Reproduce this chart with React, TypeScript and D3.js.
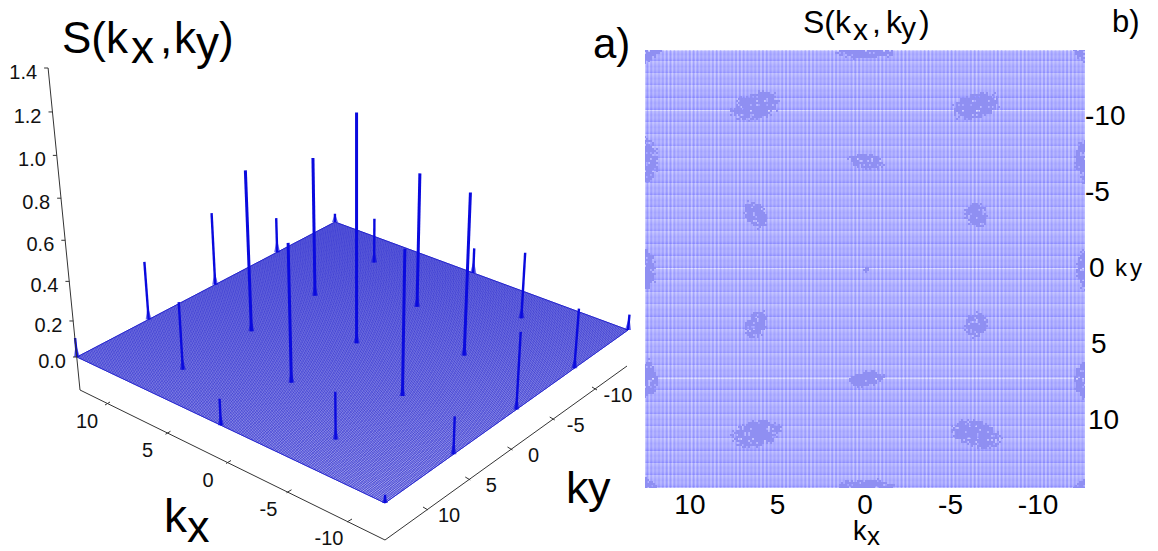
import * as d3 from "d3";
import { useEffect, useRef } from "react";

const width = 1158;
const height = 551;
const kMax = 4 * Math.PI;

// reciprocal lattice sites: kx = 2*pi*m, ky = pi*n
const peakM = [2, 2, 2, 2, 2, 1, 1, 1, 1, 0, 0, 0, 0, 0, -1, -1, -1, -1, -2, -2, -2, -2, -2];
const peakN = [4, 2, 0, -2, -4, 3, 1, -1, -3, 4, 2, 0, -2, -4, 3, 1, -1, -3, 4, 2, 0, -2, -4];
const peakValues = [0.11, 0.31, 0.38, 0.19, 0.05, 0.36, 0.81, 0.7, 0.24, 0.15, 0.71, 1.135, 0.68, 0.14, 0.26, 0.745, 0.82, 0.35, 0.05, 0.21, 0.41, 0.32, 0.09];

const zTicks = [0, 0.2, 0.4, 0.6, 0.8, 1.0, 1.2, 1.4];
const kxTicks = [10, 5, 0, -5, -10];
const kyTicks = [10, 5, 0, -5, -10];

// blobs of the flat map: kx, ky, radius along, radius across, tilt
const blobKx = [-6.28, 6.28, -6.28, 6.28, 6.28, -6.28, 6.28, -6.28, 0, 0, 0, 0, 12.6, -12.6, 12.6, -12.6, 12.6, -12.6, 12.6, -12.6, 12.6, -12.6, 0];
const blobKy = [-9.42, -9.42, 9.42, 9.42, -3.14, -3.14, 3.14, 3.14, -6.28, 6.28, -12.57, 12.57, -6.28, -6.28, 6.28, 6.28, 0, 0, -12.57, -12.57, 12.57, 12.57, 0];
const blobRx = [1.35, 1.35, 1.4, 1.35, 0.85, 0.7, 0.85, 0.7, 0.95, 1.0, 1.7, 1.7, 0.7, 0.7, 0.7, 0.7, 0.6, 0.6, 1.0, 0.8, 0.8, 0.8, 0.15];
const blobRy = [0.7, 0.75, 0.7, 0.7, 0.55, 0.6, 0.55, 0.6, 0.42, 0.42, 0.45, 0.55, 1.2, 1.2, 1.1, 1.1, 1.1, 1.1, 0.6, 0.6, 0.6, 0.6, 0.15];
const blobTilt = [-15, -15, 15, -12, 60, 60, -60, -60, 10, -8, 0, 0, 0, 0, 0, 0, 0, 0, -30, 30, 30, -30, 0];

type Pt = [number, number];

// perspective map of the unit square onto the floor quad
function floorMap(q: Pt[]) {
  const [[x0, y0], [x1, y1], [x2, y2], [x3, y3]] = q;
  const dx1 = x1 - x2, dx2 = x3 - x2, sx = x0 - x1 + x2 - x3;
  const dy1 = y1 - y2, dy2 = y3 - y2, sy = y0 - y1 + y2 - y3;
  const den = dx1 * dy2 - dx2 * dy1;
  const g = (sx * dy2 - dx2 * sy) / den;
  const h = (dx1 * sy - sx * dy1) / den;
  const a = x1 - x0 + g * x1, b = x3 - x0 + h * x3;
  const d = y1 - y0 + g * y1, e = y3 - y0 + h * y3;
  return (u: number, v: number): Pt => {
    const w = g * u + h * v + 1;
    return [(a * u + b * v + x0) / w, (d * u + e * v + y0) / w];
  };
}

export default function App() {
  const svgRef = useRef<SVGSVGElement | null>(null);

  useEffect(() => {
    const svg = d3.select(svgRef.current);
    svg.selectAll("*").remove();
    svg.style("font-family", "'Liberation Sans', Arial, sans-serif");

    // ---------- panel a
    const uScale = d3.scaleLinear().domain([kMax, -kMax]).range([0, 1]);
    const vScale = d3.scaleLinear().domain([kMax, -kMax]).range([0, 1]);
    const project = floorMap([[77, 357], [385, 503], [628, 330], [335, 222]]);
    const floor = (kx: number, ky: number) => project(uScale(kx), vScale(ky));

    const zLength = d3.scalePow().exponent(1.07).domain([0, 1.4]).range([0, 289]);
    // verticals converge on a far point below the picture
    const lift = (p: Pt, z: number): Pt => {
      const h = zLength(z);
      return [p[0] + ((p[0] - 357) / 2800) * h, p[1] - h];
    };

    const meshSteps = d3.range(0, 216).map((i) => -kMax + (i * 2 * kMax) / 215);
    const mesh = d3.path();
    meshSteps.forEach((k) => {
      const a = floor(k, -kMax), b = floor(k, kMax);
      mesh.moveTo(a[0], a[1]);
      mesh.lineTo(b[0], b[1]);
      const c = floor(-kMax, k), e = floor(kMax, k);
      mesh.moveTo(c[0], c[1]);
      mesh.lineTo(e[0], e[1]);
    });

    const outline = [floor(kMax, kMax), floor(-kMax, kMax), floor(-kMax, -kMax), floor(kMax, -kMax)];
    svg.append("polygon")
      .attr("points", outline.map((p) => p.join(",")).join(" "))
      .attr("fill", "#e4e4fa")
      .attr("stroke", "#2a2ad0")
      .attr("stroke-width", 1);
    svg.append("path")
      .attr("d", mesh.toString())
      .attr("fill", "none")
      .attr("stroke", "#2626cc")
      .attr("stroke-width", 0.62);

    const peaks = peakValues.map((value, i) => ({
      base: floor(2 * Math.PI * peakM[i], Math.PI * peakN[i]),
      value,
    }));
    const peakColor = "#0a0ade";
    peaks
      .slice()
      .sort((a, b) => a.base[1] - b.base[1])
      .forEach(({ base, value }) => {
        const tip = lift(base, value);
        const foot = lift(base, Math.min(value, 0.08));
        svg.append("polygon")
          .attr("points", `${base[0] - 3},${base[1]} ${foot[0]},${foot[1]} ${base[0] + 3},${base[1]}`)
          .attr("fill", peakColor)
          .attr("fill-opacity", 0.6);
        svg.append("line")
          .attr("x1", base[0]).attr("y1", base[1])
          .attr("x2", tip[0]).attr("y2", tip[1])
          .attr("stroke", peakColor)
          .attr("stroke-width", value > 0.5 ? 3 : 2.4);
      });

    // axes of panel a
    const axisColor = "#333";
    const corner = project(0, 0);
    const zAt = (z: number) => lift(corner, z);
    const zTop = zAt(1.4);
    svg.append("line")
      .attr("x1", 80).attr("y1", 390)
      .attr("x2", zTop[0]).attr("y2", zTop[1])
      .attr("stroke", axisColor);
    zTicks.forEach((z) => {
      const [x, y] = zAt(z);
      svg.append("line")
        .attr("x1", x).attr("y1", y)
        .attr("x2", x - 4).attr("y2", y)
        .attr("stroke", axisColor);
      svg.append("text")
        .attr("x", x - 11).attr("y", y + 11)
        .attr("text-anchor", "end")
        .attr("font-size", 20)
        .attr("fill", "#111")
        .text(z.toFixed(1));
    });

    const kxAxisX = d3.scaleLinear().domain([10, -10]).range([105, 347]);
    const kxAxisY = d3.scaleLinear().domain([10, -10]).range([405, 522]);
    const kyAxisX = d3.scaleLinear().domain([10, -10]).range([428, 597]);
    const kyAxisY = d3.scaleLinear().domain([10, -10]).range([510, 390]);

    svg.append("path")
      .attr("d", "M80,390L385,540L627,366")
      .attr("fill", "none")
      .attr("stroke", axisColor);

    kxTicks.forEach((t) => {
      svg.append("line")
        .attr("x1", kxAxisX(t)).attr("y1", kxAxisY(t))
        .attr("x2", kxAxisX(t) + 5).attr("y2", kxAxisY(t) - 3)
        .attr("stroke", axisColor);
      svg.append("text")
        .attr("x", kxAxisX(t) - 18).attr("y", kxAxisY(t) + 23)
        .attr("text-anchor", "middle")
        .attr("font-size", 20)
        .attr("fill", "#111")
        .text(t);
    });
    kyTicks.forEach((t) => {
      svg.append("line")
        .attr("x1", kyAxisX(t)).attr("y1", kyAxisY(t))
        .attr("x2", kyAxisX(t) - 5).attr("y2", kyAxisY(t) - 3)
        .attr("stroke", axisColor);
      svg.append("text")
        .attr("x", kyAxisX(t) + 21).attr("y", kyAxisY(t) + 12)
        .attr("text-anchor", "middle")
        .attr("font-size", 20)
        .attr("fill", "#111")
        .text(t);
    });

    const label = (x: number, y: number, size: number, s: string, anchor = "start") =>
      svg.append("text")
        .attr("x", x).attr("y", y)
        .attr("font-size", size)
        .attr("text-anchor", anchor)
        .attr("fill", "#000")
        .text(s);

    // S(kx,ky) of panel a
    label(62, 53, 44, "S(k");
    label(131, 63, 46, "x");
    label(160, 53, 44, ",");
    label(174, 53, 44, "k");
    label(196, 59, 46, "y");
    label(219, 53, 44, ")");
    label(593, 58, 42, "a)");
    label(164, 532, 46, "k");
    label(187, 542, 45, "x");
    label(566, 503, 45, "k");
    label(588, 503, 45, "y");

    // ---------- panel b
    const mapLeft = 645, mapTop = 50, mapW = 440, mapH = 438;
    const mapX = d3.scaleLinear().domain([kMax, -kMax]).range([mapLeft, mapLeft + mapW]);
    const mapY = d3.scaleLinear().domain([-kMax, kMax]).range([mapTop, mapTop + mapH]);

    const defs = svg.append("defs");
    defs.append("clipPath").attr("id", "map-clip")
      .append("rect")
      .attr("x", mapLeft).attr("y", mapTop).attr("width", mapW).attr("height", mapH);

    const map = svg.append("g").attr("clip-path", "url(#map-clip)");
    map.append("rect")
      .attr("x", mapLeft).attr("y", mapTop).attr("width", mapW).attr("height", mapH)
      .attr("fill", "#a6a6ff");

    // the mesh beating against the raster: saw bands across, fine stripes down
    const bandPeriod = 12.17;
    const bandShade = d3.scaleLinear<string>()
      .domain([0, 0.45, 1])
      .range(["rgba(255,255,255,0.3)", "rgba(255,255,255,0.03)", "rgba(125,125,255,0.5)"]);
    d3.range(mapTop, mapTop + mapH).forEach((y) => {
      const phase = ((y - 48.4) / bandPeriod) % 1;
      map.append("rect")
        .attr("x", mapLeft).attr("y", y).attr("width", mapW).attr("height", 1)
        .attr("fill", bandShade(phase));
    });
    [mapTop, 110, 268, 378].forEach((y) => {
      map.append("rect")
        .attr("x", mapLeft).attr("y", y).attr("width", mapW).attr("height", 1)
        .attr("fill", "rgba(255,255,255,0.4)");
    });
    d3.range(mapLeft, mapLeft + mapW).forEach((x) => {
      const fine = Math.cos((2 * Math.PI * (x - mapLeft)) / 3.85);
      const slow = 0.5 + 0.5 * Math.cos((2 * Math.PI * (x - mapLeft)) / 23.5);
      const light = fine * (0.35 + 0.65 * slow);
      map.append("rect")
        .attr("x", x).attr("y", mapTop).attr("width", 1).attr("height", mapH)
        .attr("fill", light > 0 ? "#fff" : "#6c6cff")
        .attr("fill-opacity", Math.abs(light) * 0.3);
    });

    const unit = mapX(0) - mapX(1);
    const cell = 2;
    blobKx.forEach((kx, i) => {
      const cx = mapX(kx), cy = mapY(blobKy[i]);
      const rx = blobRx[i] * unit, ry = blobRy[i] * unit;
      const tilt = (blobTilt[i] * Math.PI) / 180;
      const reach = Math.ceil(Math.max(rx, ry) * 1.2);
      d3.range(-reach, reach, cell).forEach((dx) => {
        d3.range(-reach, reach, cell).forEach((dy) => {
          const along = dx * Math.cos(tilt) + dy * Math.sin(tilt);
          const across = -dx * Math.sin(tilt) + dy * Math.cos(tilt);
          const r = Math.hypot(along / rx, across / ry);
          // fixed mottling of the patch, thinning out towards the rim
          const mottle = Math.abs(Math.sin(dx * 12.9898 + dy * 78.233 + i) * 437.585) % 1;
          if (mottle < 0.12 || r > 1.2 - 0.35 * mottle) return;
          map.append("rect")
            .attr("x", Math.round(cx + dx)).attr("y", Math.round(cy + dy))
            .attr("width", cell).attr("height", cell)
            .attr("fill", "#8f8ff2");
        });
      });
    });

    kxTicks.forEach((t) => {
      label(mapX(t) - (t < 0 ? 2 : 0), 514, 28, String(t), "middle");
    });
    const kyLabelY = d3.scaleLinear().domain([-10, 10]).range([125, 429]);
    const kyLabelX = [1088, 1091, 1089, 1085, 1085];
    kyTicks.forEach((t, i) => {
      label(kyLabelX[i], kyLabelY(t), 28, String(t));
    });

    label(803, 33, 32, "S(k");
    label(853, 40, 30, "x");
    label(872, 33, 32, ",");
    label(886, 33, 32, "k");
    label(901, 38, 30, "y");
    label(919, 33, 32, ")");
    label(1112, 32, 31, "b)");
    label(853, 540, 27, "k");
    label(867, 545, 26, "x");
    label(1115, 276, 24, "k");
    label(1130, 276, 24, "y");
  }, []);

  return (
    <svg
      ref={svgRef}
      width={width}
      height={height}
      style={{ position: "absolute", left: 0, top: 0, background: "#fff" }}
    />
  );
}
